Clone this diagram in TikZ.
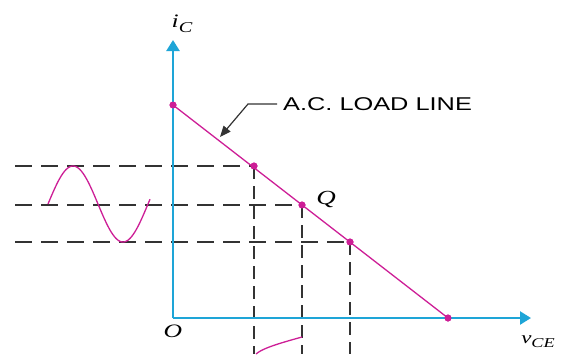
\documentclass[tikz,border=0pt]{standalone}
\usepackage{fontspec}
\setsansfont{Liberation Sans}
\newfontfamily\labelfont{Liberation Serif}
\usetikzlibrary{arrows.meta}
\definecolor{axiscol}{RGB}{30,165,215}
\definecolor{loadcol}{RGB}{205,30,150}
\newcommand{\stretchlbl}[1]{\scalebox{1.35}[1]{#1}}
\begin{document}
\begin{tikzpicture}[x=1pt,y=-1pt,
  axis/.style={axiscol,line width=2.4pt,-{Triangle[width=13pt,length=11pt]}},
  load/.style={loadcol,line width=1.3pt},
  hguide/.style={black!80,line width=1.2pt,dash pattern=on 17pt off 9pt},
  vguide/.style={black!80,line width=1.2pt,dash pattern=on 13pt off 7pt},
  leader/.style={black!80,line width=1.2pt,-{Triangle[width=9pt,length=11pt]}},
  dot/.style={circle,fill=loadcol,inner sep=0pt,minimum size=7pt},
  lbl/.style={font=\labelfont\itshape,inner sep=0pt}]
\useasboundingbox (0,0) rectangle (565,354);
% key points
\coordinate (O) at (173,318);
\coordinate (ytip) at (173,40);
\coordinate (xtip) at (531,318);
\node[dot] (la) at (173,105) {};
\node[dot] (lb) at (448,318) {};
\node[dot] (p1) at (254,166) {};
\node[dot] (q) at (302,205) {};
\node[dot] (p3) at (350,242) {};
\coordinate (h1) at (15,166);
\coordinate (h2) at (15,205);
\coordinate (h3) at (15,242);
\coordinate (v1) at (254,354);
\coordinate (v2) at (302,354);
\coordinate (v3) at (350,354);
% dashed guides
\draw[hguide] (h1) -- (p1.center);
\draw[hguide] (h2) -- (q.center);
\draw[hguide] (h3) -- (p3.center);
\draw[vguide] (p1.center) -- (v1);
\draw[vguide] (q.center) -- (v2);
\draw[vguide] (p3.center) -- (v3);
% axes
\draw[axis] (O) -- (ytip);
\draw[axis] (O) -- (xtip);
% input wave
\draw[load] plot[domain=0:102,samples=80,smooth] ({48+\x},{204-38*sin(3.6*\x)});
% output wave fragment
\draw[load] plot[domain=337:354,samples=20,smooth] ({302-48*sin(90*(\x-337)/21)},\x);
% load line
\draw[load] (la.center) -- (lb.center);
\node[dot] at (la) {};
\node[dot] at (lb) {};
\node[dot] at (p1) {};
\node[dot] at (q) {};
\node[dot] at (p3) {};
% labels
\node[lbl] (ic) at (182,24) {\stretchlbl{\fontsize{19}{20}\selectfont i\raisebox{-5pt}{\fontsize{15}{15}\selectfont C}}};
\node[lbl] (ql) at (326,199) {\stretchlbl{\fontsize{20}{22}\selectfont Q}};
\node[lbl] (ol) at (173,331) {\stretchlbl{\fontsize{19}{20}\selectfont O}};
\node[lbl] (vce) at (538,342) {\stretchlbl{\fontsize{17}{18}\selectfont v\raisebox{-4pt}{\fontsize{13.5}{14}\selectfont CE}}};
\node[anchor=west,inner sep=0pt,font=\sffamily\fontsize{18.5}{20}\selectfont] (txt) at (283,104) {\scalebox{1.37}[1]{A.C. LOAD LINE}};
\coordinate (lk) at (248,104);
\coordinate (lt) at (220,137);
\draw[leader] ([xshift=-6pt]txt.west) -- (lk) -- (lt);
\end{tikzpicture}
\end{document}
